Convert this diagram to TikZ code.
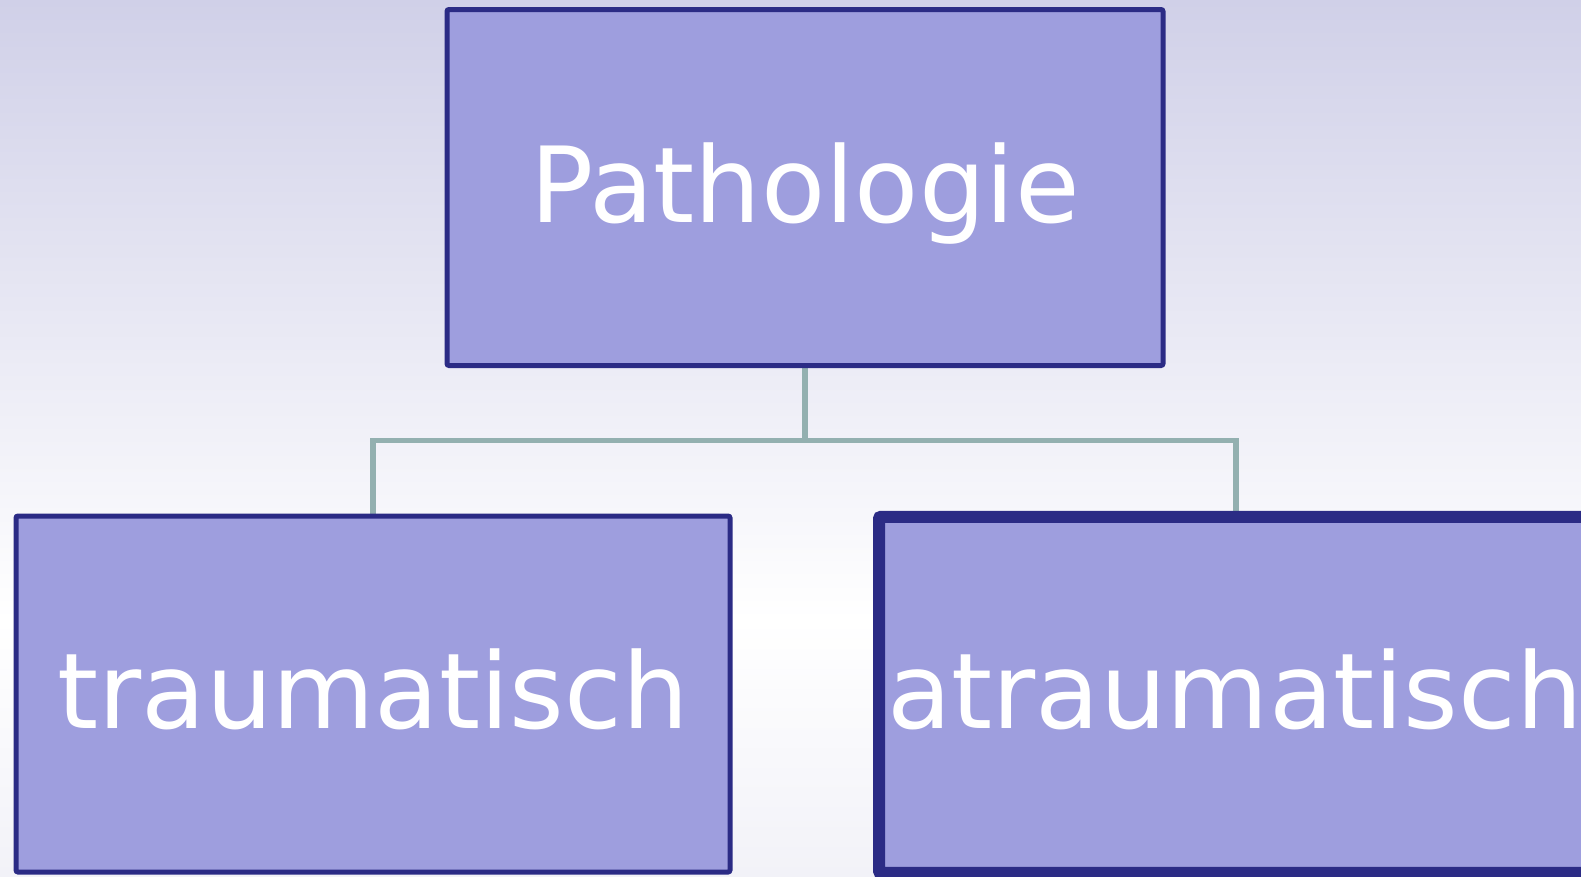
\documentclass[tikz,border=0pt]{standalone}
\usepackage{fontspec}
\setmainfont{DejaVu Sans}
\pgfdeclarelayer{bg}
\pgfdeclarelayer{conn}
\pgfsetlayers{bg,conn,main}
\definecolor{boxfill}{RGB}{158,158,222}
\definecolor{boxline}{RGB}{43,43,133}
\definecolor{connline}{RGB}{147,176,176}
\definecolor{bgtop}{RGB}{208,208,232}
\definecolor{bgbot}{RGB}{242,242,248}
\begin{document}
\begin{tikzpicture}[x=1pt,y=-1pt,
  box/.style={draw=boxline, fill=boxfill, line width=5pt, rounded corners=2pt,
    inner sep=0pt, outer sep=0pt, minimum width=714pt, minimum height=356pt},
  boxthick/.style={box, line width=12pt},
  lbl/.style={anchor=base, text=white, inner sep=0pt, font=\fontsize{105}{120}\selectfont},
  conn/.style={draw=connline, line width=5.5pt}]
\useasboundingbox (0,0) rectangle (1581,876);
\clip (0,0) rectangle (1581,876);
\begin{pgfonlayer}{bg}
\shade[top color=bgtop, bottom color=white] (0,0) rectangle (1581,620);
\shade[top color=white, bottom color=bgbot] (0,619) rectangle (1581,876);
\end{pgfonlayer}
\node[box, minimum width=716pt] (top) at (805,187.5) {};
\node[box] (left) at (373,694) {};
\node[boxthick] (right) at (1236,694.8) {};
\node[lbl] (ttop) at (805,222) {Pathologie};
\node[lbl] (tleft) at (373,728) {traumatisch};
\node[lbl] (tright) at (1235,728) {atraumatisch};
\coordinate (j) at (805,440.5);
\begin{pgfonlayer}{conn}
\draw[conn] (top.south) -- (j);
\draw[conn] (j) -| (left.north);
\draw[conn] (j) -| (right.north);
\end{pgfonlayer}
\end{tikzpicture}
\end{document}
